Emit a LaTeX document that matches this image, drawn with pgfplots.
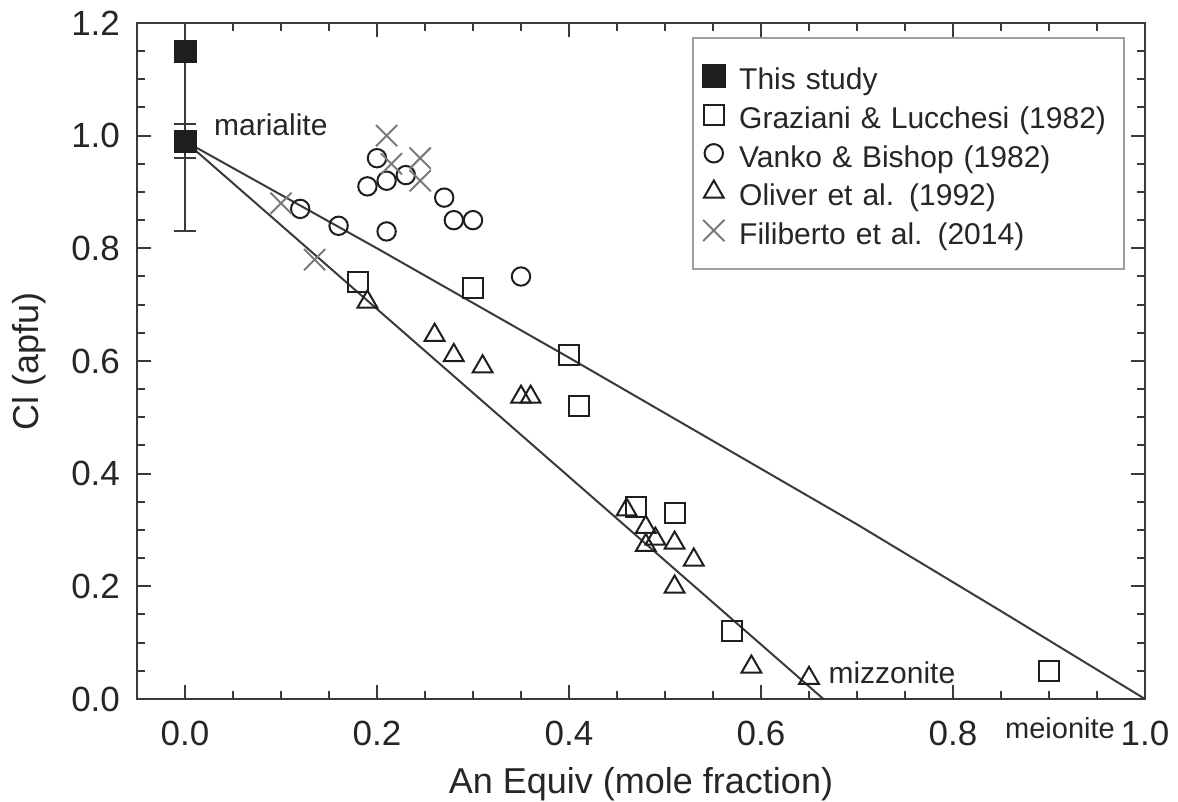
\documentclass[border=0pt]{standalone}
\usepackage{fontspec}
\setmainfont{Liberation Sans}
\usepackage{pgfplots}
\pgfplotsset{compat=1.18}
\definecolor{axgray}{HTML}{3A3A3A}
\definecolor{mk}{HTML}{1E1E1E}
\definecolor{xgray}{HTML}{7A7A7A}
\begin{document}
\begin{tikzpicture}
\begin{axis}[
  scale only axis, width=504pt, height=338pt,
  xmin=-0.05, xmax=1.0, ymin=0, ymax=1.2,
  xtick={0,0.2,0.4,0.6,0.8,1.0}, ytick={0,0.2,0.4,0.6,0.8,1.0,1.2},
  minor x tick num=3, minor y tick num=3,
  tick align=inside,
  major tick length=7pt, minor tick length=4pt,
  axis line style={axgray, line width=1.2pt},
  every tick/.style={axgray, line width=1pt},
  ticklabel style={font=\fontsize{17.5}{21}\selectfont, text=black!85},
  xticklabel style={yshift=-7.5pt},
  yticklabel style={xshift=-5pt},
  xticklabel={\pgfmathprintnumber[fixed,fixed zerofill,precision=1]{\tick}},
  yticklabel={\pgfmathprintnumber[fixed,fixed zerofill,precision=1]{\tick}},
  /pgf/number format/assume math mode=true,
  xlabel={An Equiv (mole fraction)},
  ylabel={Cl (apfu)},
  every axis x label/.style={at={([yshift=-42.5pt]axis description cs:0.5,0)}, anchor=center, font=\fontsize{18}{21}\selectfont, text=black!85},
  every axis y label/.style={at={([xshift=-54pt]axis description cs:0,0.5)}, anchor=center, rotate=90, font=\fontsize{18}{21}\selectfont, text=black!85},
  clip mode=individual,
  legend cell align=left,
  legend style={at={(1,1)}, anchor=north east, xshift=-10pt, yshift=-7pt,
    draw=gray!75, line width=0.8pt, fill=white,
    font=\fontsize{15}{18}\selectfont, text=black!85,
    inner xsep=4.8pt, inner ysep=9.5pt,
    nodes={text height=14.4pt, text depth=0.5pt, inner sep=2.2pt},
    /tikz/every odd column/.append style={column sep=5pt},
    /tikz/every even column/.append style={text width=185.5pt}},
]
% fit lines
\addplot[forget plot, axgray, line width=1pt] coordinates {(0,0.99) (0.2,0.80) (0.4,0.606) (0.55,0.458) (0.7,0.31) (0.85,0.156) (1.0,0)};
\addplot[forget plot, axgray, line width=1pt] coordinates {(0,0.99) (0.665,0)};
% This study
\addplot[only marks, mark=square*, mark size=5.5pt, mk, mark options={fill=mk},
  error bars/.cd, y dir=both, y explicit,
  error bar style={line width=1pt, axgray},
  error mark options={rotate=90, line width=1pt, mark size=5.5pt, axgray}]
  table[x=x, y=y, y error=e] {
x y e
0 1.15 0.32
0 0.99 0.03
};
\addlegendentry{This study}
% Graziani & Lucchesi
\addplot[only marks, mark=square, mark size=5pt, mk, mark options={line width=1pt}] table {
x y
0.18 0.74
0.30 0.73
0.40 0.61
0.41 0.52
0.47 0.34
0.51 0.33
0.57 0.12
0.90 0.05
};
\addlegendentry{Graziani \& Lucchesi (1982)}
% Vanko & Bishop
\addplot[only marks, mark=o, mark size=4.6pt, mk, mark options={line width=1pt}] table {
x y
0.12 0.87
0.16 0.84
0.19 0.91
0.20 0.96
0.21 0.92
0.21 0.83
0.23 0.93
0.27 0.89
0.28 0.85
0.30 0.85
0.35 0.75
};
\addlegendentry{Vanko \& Bishop (1982)}
% Oliver et al.
\addplot[only marks, mark=triangle, mark size=5.7pt, mk, mark options={line width=1pt}] table {
x y
0.19 0.705
0.26 0.646
0.28 0.61
0.31 0.59
0.35 0.536
0.36 0.536
0.46 0.336
0.48 0.305
0.48 0.273
0.49 0.284
0.51 0.277
0.53 0.247
0.51 0.199
0.59 0.057
0.65 0.037
};
\addlegendentry{Oliver et al. (1992)}
% Filiberto et al.
\addplot[only marks, mark=x, mark size=7.5pt, xgray, mark options={line width=1pt}] table {
x y
0.10 0.88
0.135 0.78
0.21 1.00
0.215 0.95
0.245 0.96
0.245 0.92
};
\addlegendentry{Filiberto et al. (2014)}
\node[anchor=west, font=\fontsize{15}{18}\selectfont, text=black!85] at (axis cs:0.023,1.02) {marialite};
\node[anchor=west, font=\fontsize{15}{18}\selectfont, text=black!85] at (axis cs:0.663,0.046) {mizzonite};
\node[anchor=west, font=\fontsize{14.5}{18}\selectfont, text=black!85] at (axis cs:0.847,-0.051) {meionite};
\end{axis}
\pgfresetboundingbox
\path[use as bounding box] ([xshift=-68.5pt,yshift=-51.5pt]current axis.south west) rectangle ([xshift=16.5pt,yshift=11.5pt]current axis.north east);
\end{tikzpicture}
\end{document}
